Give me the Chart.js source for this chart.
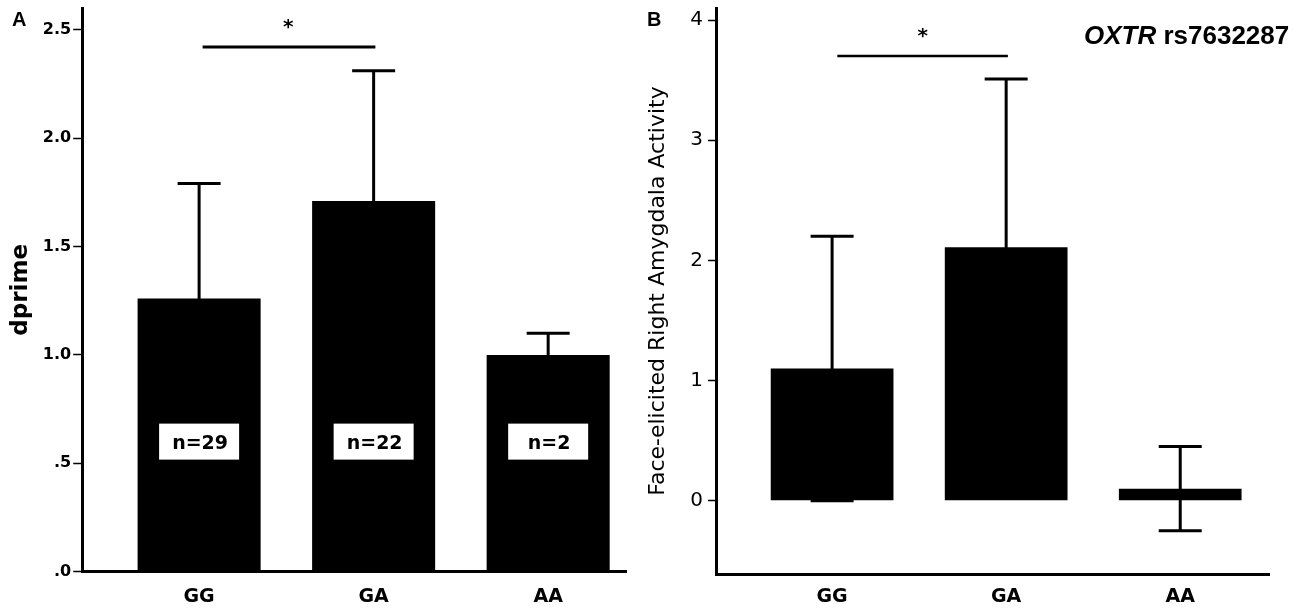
<!DOCTYPE html>
<html>
<head>
<meta charset="utf-8">
<script src="https://cdn.jsdelivr.net/npm/chart.js@4"></script>
<style>
  html, body { margin: 0; padding: 0; background: #fff; }
  body { width: 1300px; height: 614px; position: relative; overflow: hidden; }
  #wrapA { position: absolute; left: 0; top: 0; width: 630px; height: 614px; }
  #wrapB { position: absolute; left: 630px; top: 0; width: 670px; height: 614px; }
</style>
</head>
<body>
<div id="wrapA"><canvas id="chartA" width="630" height="614"></canvas></div>
<div id="wrapB"><canvas id="chartB" width="670" height="614"></canvas></div>
<script>
// ---------- data ----------
const categories = ['GG', 'GA', 'AA'];
const dprimeMeans = [1.26, 1.71, 1.00];
const dprimeErrors = [0.53, 0.60, 0.10];
const groupCounts = [29, 22, 2];
const dprimeTickLabels = ['.0', '.5', '1.0', '1.5', '2.0', '2.5'];
const amygdalaMeans = [1.10, 2.11, 0.10];
const amygdalaErrors = [1.10, 1.40, 0.35];
const amygdalaTickLabels = ['0', '1', '2', '3', '4'];

const FONT = '"DejaVu Sans", sans-serif';
const SANS = '"Liberation Sans", Arial, sans-serif';

// ---------- annotation plugin (error bars, significance, n-boxes, panel text) ----------
const annotPlugin = {
  id: 'annot',
  afterDatasetsDraw(chart, args, o) {
    const ctx = chart.ctx;
    const x = chart.scales.x, y = chart.scales.y;
    ctx.save();
    // error bars
    ctx.strokeStyle = '#000';
    ctx.lineWidth = 3;
    ctx.lineCap = 'butt';
    o.means.forEach((m, i) => {
      const px = x.getPixelForValue(i);
      const top = y.getPixelForValue(m + o.errors[i]);
      const bot = y.getPixelForValue(m - o.errors[i]);
      ctx.beginPath();
      ctx.moveTo(px, bot); ctx.lineTo(px, top);
      ctx.moveTo(px - 21.5, top); ctx.lineTo(px + 21.5, top);
      ctx.moveTo(px - 21.5, bot); ctx.lineTo(px + 21.5, bot);
      ctx.stroke();
    });
    // n boxes
    if (o.counts) {
      o.counts.forEach((n, i) => {
        const px = x.getPixelForValue(i);
        const py = y.getPixelForValue(o.countAt);
        ctx.fillStyle = '#fff';
        ctx.fillRect(px - 40, py - 18, 80, 36);
        ctx.fillStyle = '#000';
        ctx.font = 'bold 19px ' + FONT;
        ctx.textAlign = 'center';
        ctx.textBaseline = 'middle';
        ctx.fillText('n=' + n, px + 1, py + 2);
      });
    }
    // significance bar
    const sy = y.getPixelForValue(o.sig.y);
    const sx1 = x.getPixelForValue(o.sig.from), sx2 = x.getPixelForValue(o.sig.to);
    ctx.lineWidth = o.sig.width;
    ctx.beginPath(); ctx.moveTo(sx1, sy); ctx.lineTo(sx2, sy); ctx.stroke();
    ctx.fillStyle = '#000';
    ctx.font = 'bold 20px ' + FONT;
    ctx.textAlign = 'center';
    ctx.textBaseline = 'alphabetic';
    ctx.fillText('*', x.getPixelForValue(o.sig.star), sy - 14);
    // panel letter
    ctx.font = 'bold 20px ' + SANS;
    ctx.textAlign = 'left';
    ctx.fillText(o.letter, o.letterX, 26);
    // gene label
    if (o.gene) {
      let gx = o.gene.x;
      ctx.font = 'italic bold 26px ' + SANS;
      ctx.fillText(o.gene.italic, gx, 44);
      gx += ctx.measureText(o.gene.italic).width;
      ctx.font = 'bold 26px ' + SANS;
      ctx.fillText(o.gene.plain, gx, 44);
    }
    ctx.restore();
  }
};

function makeChart(id, cfg) {
  return new Chart(document.getElementById(id), {
    type: 'bar',
    data: {
      datasets: [{
        data: cfg.means.map((v, i) => ({ x: i, y: v })),
        backgroundColor: '#000',
        borderWidth: 0,
        categoryPercentage: 1,
        barPercentage: 0.705
      }]
    },
    options: {
      responsive: false,
      animation: false,
      devicePixelRatio: 1,
      layout: { padding: { left: 0, top: 8, right: cfg.padRight, bottom: 0 } },
      plugins: {
        legend: { display: false },
        tooltip: { enabled: false },
        annot: cfg.annot
      },
      scales: {
        x: {
          type: 'linear',
          offset: false,
          min: -0.667,
          max: cfg.xMax,
          afterFit: s => { s.height = cfg.xHeight; s.paddingLeft = 0; s.paddingRight = 0; },
          afterBuildTicks: s => { s.ticks = categories.map((c, i) => ({ value: i })); },
          grid: { display: false, drawTicks: false, offset: false },
          border: { display: true, color: '#000', width: 3 },
          ticks: {
            autoSkip: false,
            maxRotation: 0,
            padding: cfg.xPad,
            color: '#000',
            font: { family: FONT, size: 19, weight: 'bold' },
            callback: v => categories[v]
          }
        },
        y: {
          min: cfg.yMin,
          max: cfg.yMax,
          afterFit: s => { s.width = cfg.yWidth; s.paddingTop = 0; s.paddingBottom = 0; },
          ticks: {
            stepSize: cfg.step,
            includeBounds: false,
            padding: cfg.yTickPad,
            color: '#000',
            font: cfg.tickFont,
            callback: (v, i) => cfg.tickLabels[i]
          },
          grid: {
            display: true,
            drawOnChartArea: false,
            drawTicks: true,
            tickLength: cfg.tickLen,
            tickWidth: 1.5,
            tickColor: '#000'
          },
          border: { display: true, color: '#000', width: 3 },
          title: {
            display: true,
            text: cfg.yTitle,
            color: '#000',
            font: cfg.titleFont,
            padding: { top: cfg.titlePad, bottom: 0 }
          }
        }
      }
    },
    plugins: [annotPlugin]
  });
}

makeChart('chartA', {
  means: dprimeMeans,
  padRight: 3.3,
  xMax: 2.45,
  xHeight: 42.3,
  xPad: 14,
  yMin: 0, yMax: 2.6, step: 0.5,
  yWidth: 82.7,
  yTickPad: 2,
  tickLen: 9.5,
  tickLabels: dprimeTickLabels,
  tickFont: { family: FONT, size: 16, weight: 'bold' },
  yTitle: 'dprime',
  titleFont: { family: FONT, size: 23, weight: 'bold' },
  titlePad: 7.7,
  annot: {
    means: dprimeMeans, errors: dprimeErrors,
    counts: groupCounts, countAt: 0.6,
    sig: { from: 0.02, to: 1.01, y: 2.42, width: 3, star: 0.51 },
    letter: 'A', letterX: 12
  }
});

makeChart('chartB', {
  means: amygdalaMeans,
  padRight: 31,
  xMax: 2.51,
  xHeight: 40,
  xPad: 11.6,
  yMin: -0.61, yMax: 4.1, step: 1,
  yWidth: 86,
  yTickPad: 5,
  tickLen: 8,
  tickLabels: amygdalaTickLabels,
  tickFont: { family: FONT, size: 20, weight: 'normal' },
  yTitle: 'Face-elicited Right Amygdala Activity',
  titleFont: { family: FONT, size: 22, weight: 'normal' },
  titlePad: 14.8,
  annot: {
    means: amygdalaMeans, errors: amygdalaErrors,
    counts: null,
    sig: { from: 0.03, to: 1.01, y: 3.70, width: 2.5, star: 0.52 },
    letter: 'B', letterX: 17,
    gene: { x: 454, italic: 'OXTR', plain: ' rs7632287' }
  }
});
</script>
</body>
</html>
